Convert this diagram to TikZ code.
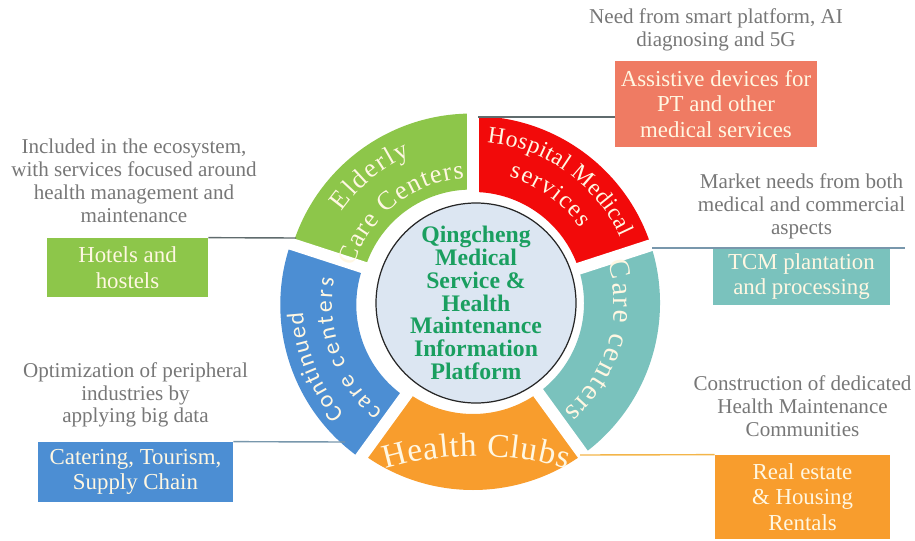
\documentclass[tikz,border=0pt]{standalone}
\usepackage{fontspec}
\setmainfont{Liberation Serif}
\newfontfamily\segsans{Carlito}
\usepackage{tikz}
\usetikzlibrary{positioning,decorations.text}
\definecolor{segGreen}{HTML}{8DC64A}
\definecolor{segRed}{HTML}{F20A0A}
\definecolor{segTeal}{HTML}{7AC2BD}
\definecolor{segOrange}{HTML}{F89D2D}
\definecolor{segBlue}{HTML}{4C8ED3}
\definecolor{boxSalmon}{HTML}{EF7B63}
\definecolor{hubFill}{HTML}{DCE6F2}
\definecolor{hubText}{HTML}{1A9F60}
\definecolor{noteGray}{HTML}{777777}
\definecolor{lightText}{HTML}{FFF7E2}
\definecolor{lineGray}{HTML}{5F6B6D}
\definecolor{lineBlue}{HTML}{7897AC}
\definecolor{lineGold}{HTML}{F3B54A}

\begin{document}
\begin{tikzpicture}[x=0.2mm, y=0.2mm, on grid,
  note/.style={align=center, text=noteGray, font=\fontsize{12}{13}\selectfont},
  infobox/.style={align=center, text=lightText, inner sep=0pt, font=\fontsize{13}{14.5}\selectfont},
  hub/.style={circle, draw=black!85, line width=0.7pt, fill=hubFill, minimum size=40mm, inner sep=0pt},
  hubtext/.style={align=center, text=hubText, font=\bfseries\fontsize{13.5}{13}\selectfont},
  link/.style={draw=#1, line width=0.8pt},
  gap/.style={draw=white, line width=2.4mm},
  arctext/.style 2 args={decorate, decoration={text effects along path, text={#2},
    text effects/.cd, text along path, fit text to path, characters={text=lightText, font=#1}}}]
\useasboundingbox (0,0) rectangle (915,540);
\coordinate (rc) at (473,237);
\coordinate (archC) at (476,-236);

\begin{scope}[shift={(rc)}]
\foreach \a/\col/\s in {90/segGreen/3, 18/segRed/0, -54/segTeal/0, -126/segOrange/0, 162/segBlue/6}
  \fill[\col, shift={(\a+36:\s)}] (\a:111) arc[start angle=\a, end angle=\a+72, radius=111]
    -- (\a+72:187) arc[start angle=\a+72, end angle=\a, radius=187] -- cycle;
\foreach \a in {90,18,-54,-126,162}
  \draw[gap] (0,0) -- (\a:196);
\end{scope}

\path[arctext={\fontsize{15}{15}\selectfont}{Elderly}] ([shift={(145:160)}]rc) arc[start angle=145, end angle=113, radius=160];
\path[arctext={\fontsize{15}{15}\selectfont}{Care Centers}] ([shift={(163:125)}]rc) arc[start angle=163, end angle=94, radius=125];
\path[arctext={\fontsize{13.5}{13.5}\selectfont}{Hospital Medical}] ([shift={(85:161)}]rc) arc[start angle=85, end angle=24, radius=161];
\path[arctext={\fontsize{14}{14}\selectfont}{services}] ([shift={(74:131)}]rc) arc[start angle=74, end angle=35, radius=131];
\path[arctext={\fontsize{16.5}{16.5}\selectfont}{Care centers}] ([shift={(17:141)}]rc) arc[start angle=17, end angle=-50, radius=141];
\path[arctext={\fontsize{19}{19}\selectfont}{Health Clubs}] ([shift={(106.5:320)}]archC) arc[start angle=106.5, end angle=73.5, radius=320];
\path[arctext={\segsans\fontsize{13.5}{13.5}\selectfont}{Continued}] ([shift={(221:170)}]rc) arc[start angle=221, end angle=183, radius=170];
\path[arctext={\segsans\fontsize{13.5}{13.5}\selectfont}{care centers}] ([shift={(230:141)}]rc) arc[start angle=230, end angle=170, radius=141];

\node[hub] (hub) at (476,237) {};
\node[hubtext] (hubLabel) at (hub.center) {Qingcheng\\Medical\\Service \&\\Health\\Maintenance\\Information\\Platform};

\node[infobox, fill=boxSalmon, minimum width=40.4mm, minimum height=17.2mm] (devices) at (716,436) {Assistive devices for\\PT and other\\medical services};
\node[note, above=14.8mm of devices] (smartNote) {Need from smart platform, AI\\diagnosing and 5G};
\node[infobox, fill=segTeal, minimum width=35.4mm, minimum height=11.4mm] (tcm) at (801.5,263.5) {TCM plantation\\and processing};
\node[note, above=14.1mm of tcm] (marketNote) {Market needs from both\\medical and commercial\\aspects};
\node[infobox, fill=segOrange, minimum width=35mm, minimum height=16.8mm] (estate) at (802.5,43) {Real estate\\\& Housing\\Rentals};
\node[note, above=18.2mm of estate] (communityNote) {Construction of dedicated\\Health Maintenance\\Communities};
\node[infobox, fill=segGreen, minimum width=32.2mm, minimum height=11.8mm] (hotels) at (127.5,272.5) {Hotels and\\hostels};
\node[note, above=17.3mm of hotels, xshift=1.3mm] (ecoNote) {Included in the ecosystem,\\with services focused around\\health management and\\maintenance};
\node[infobox, fill=segBlue, minimum width=39mm, minimum height=12mm] (catering) at (135.5,68) {Catering, Tourism,\\Supply Chain};
\node[note, above=15.4mm of catering] (dataNote) {Optimization of peripheral\\industries by\\applying big data};

\coordinate (redTop) at (478,423);
\coordinate (tealTop) at (652,292);
\coordinate (tcmEnd) at (905,292);
\coordinate (orangeEdge) at (580,85);
\coordinate (greenEdge) at (296,302);
\coordinate (blueEdge) at (345,98);
\draw[link=lineGray] (redTop) -- (redTop -| devices.west);
\draw[link=lineBlue] (tealTop) -- (tcmEnd);
\draw[link=lineGold] (orangeEdge) -- (estate.north west);
\draw[link=lineGray] (hotels.north east) -- (greenEdge);
\draw[link=lineBlue] (catering.north east) -- (blueEdge);
\end{tikzpicture}
\end{document}
